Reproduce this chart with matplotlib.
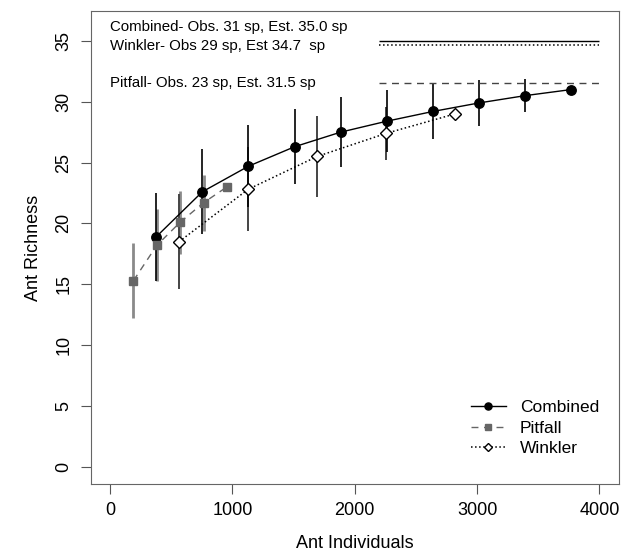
import matplotlib.pyplot as plt
import numpy as np

plt.rcParams['font.family'] = ['Liberation Sans', 'DejaVu Sans']

# rarefaction curves
comb_x = [377, 754, 1131, 1508, 1885, 2262, 2639, 3016, 3393, 3770]
comb_y = [18.9, 22.6, 24.7, 26.3, 27.5, 28.4, 29.2, 29.9, 30.5, 31.0]
comb_ci = [3.6, 3.5, 3.35, 3.1, 2.85, 2.55, 2.3, 1.9, 1.35, 0]

pit_x = [191, 382, 573, 764, 955]
pit_y = [15.3, 18.2, 20.1, 21.7, 23.0]
pit_ci = [3.05, 2.95, 2.6, 2.3, 0]

wink_x = [564, 1128, 1692, 2256, 2820]
wink_y = [18.5, 22.8, 25.5, 27.4, 29.0]
wink_ci = [3.9, 3.45, 3.3, 2.2, 0]

# estimated richness
est_comb, est_wink, est_pit = 35.0, 34.7, 31.5

fig, ax = plt.subplots(figsize=(6.33, 5.58), dpi=100)
fig.subplots_adjust(left=0.143, right=0.978, top=0.980, bottom=0.132)

# error bars
ax.vlines(pit_x, np.array(pit_y) - pit_ci, np.array(pit_y) + pit_ci, color='#8a8a8a', lw=2.0, zorder=1)
ax.vlines(wink_x, np.array(wink_y) - wink_ci, np.array(wink_y) + wink_ci, color='#444444', lw=1.4, zorder=1)
ax.vlines(comb_x, np.array(comb_y) - comb_ci, np.array(comb_y) + comb_ci, color='black', lw=1.2, zorder=1)

ax.plot(comb_x, comb_y, '-', color='black', lw=1.0, marker='o', ms=6.8,
        mfc='black', mec='black', label='Combined', zorder=3)
ax.plot(pit_x, pit_y, '--', color='#666666', lw=1.0, dashes=(5, 4), marker='s', ms=6.3,
        mfc='#666666', mec='#666666', label='Pitfall', zorder=3)
ax.plot(wink_x, wink_y, ':', color='black', lw=1.1, marker='D', ms=6,
        mfc='white', mec='black', mew=1.0, label='Winkler', zorder=3)

# asymptote lines
ax.hlines(est_comb, 2200, 4000, color='black', lw=1.0)
ax.hlines(est_wink, 2200, 4000, color='black', lw=1.1, linestyles=':')
ax.hlines(est_pit, 2200, 4000, color='#444444', lw=1.0, linestyles=(0, (5, 4)))

ax.text(0, 36.15, 'Combined- Obs. 31 sp, Est. 35.0 sp', fontsize=10.8, va='center')
ax.text(0, 34.6, 'Winkler- Obs 29 sp, Est 34.7  sp', fontsize=10.8, va='center')
ax.text(0, 31.55, 'Pitfall- Obs. 23 sp, Est. 31.5 sp', fontsize=10.8, va='center')

ax.set_xlim(-160, 4160)
ax.set_ylim(-1.44, 37.44)
ax.set_xticks([0, 1000, 2000, 3000, 4000])
ax.set_yticks([0, 5, 10, 15, 20, 25, 30, 35])
for lab in ax.get_yticklabels():
    lab.set_rotation(90)
    lab.set_va('center')
ax.tick_params(labelsize=13, length=7, color='#555555', pad=6)
for s in ax.spines.values():
    s.set_color('#666666')

ax.set_xlabel('Ant Individuals', fontsize=13, labelpad=11)
ax.set_ylabel('Ant Richness', fontsize=13, labelpad=10)

ax.legend(loc='lower right', frameon=False, fontsize=12.5, handlelength=2.0,
          handletextpad=0.8, borderaxespad=0, labelspacing=0.3, markerscale=0.75,
          bbox_to_anchor=(0.975, 0.045))

fig.savefig('out.png', dpi=100)
